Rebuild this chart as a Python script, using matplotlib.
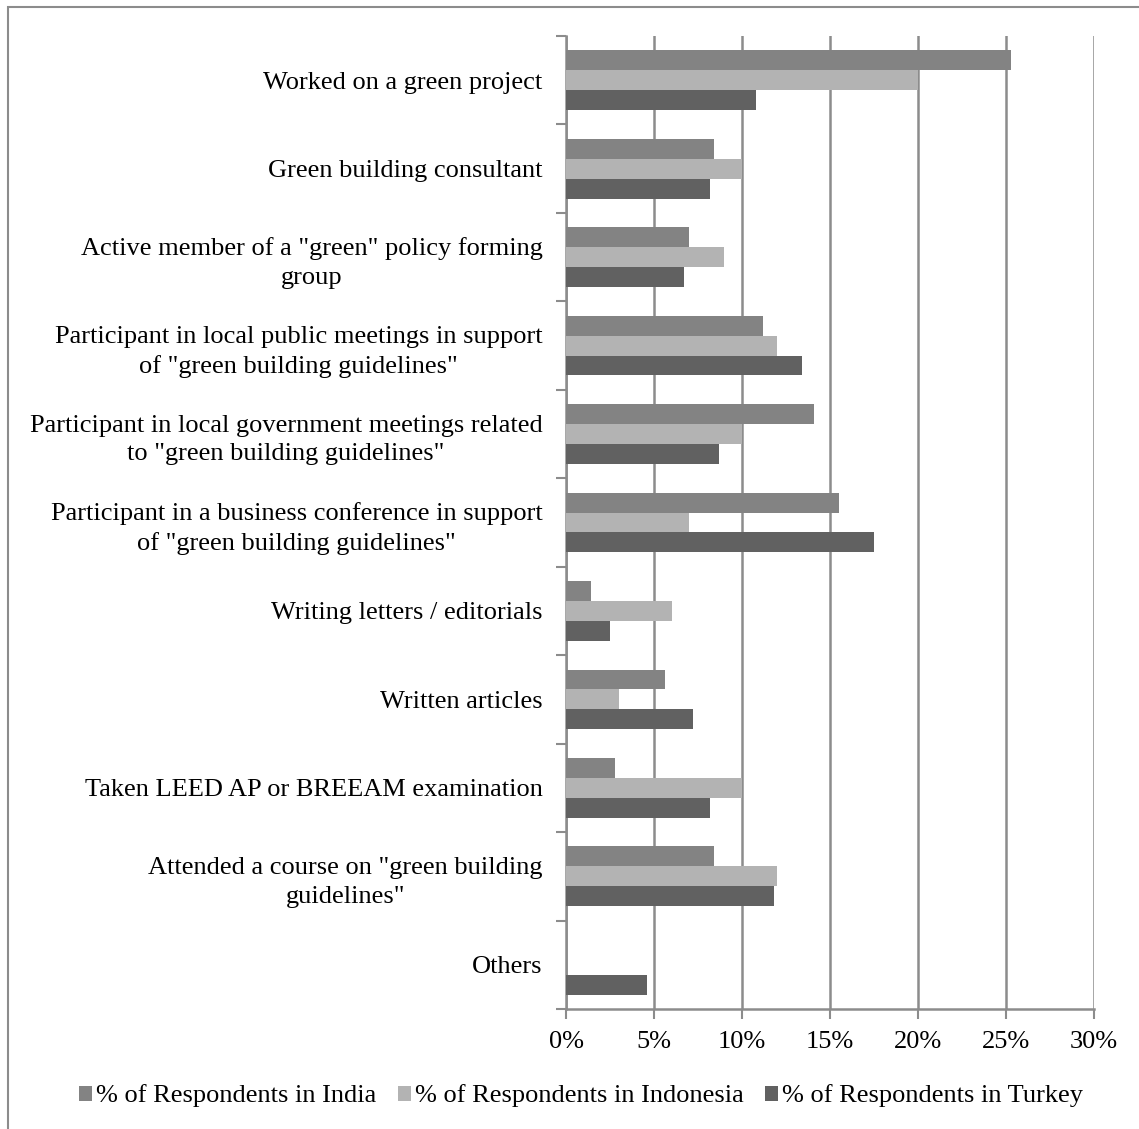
import matplotlib.pyplot as plt
import numpy as np
from matplotlib.patches import Rectangle
from matplotlib.ticker import FuncFormatter

plt.rcParams['font.family'] = ['Liberation Serif', 'DejaVu Serif']
plt.rcParams['font.size'] = 19

# Data
categories = [
    'Worked on a green project',
    'Green building consultant',
    'Active member of a "green" policy forming\ngroup',
    'Participant in local public meetings in support\nof "green building guidelines"',
    'Participant in local government meetings related\nto "green building guidelines"',
    'Participant in a business conference in support\nof "green building guidelines"',
    'Writing letters / editorials',
    'Written articles',
    'Taken LEED AP or BREEAM examination',
    'Attended a course on "green building\nguidelines"',
    'Others',
]
india = [25.3, 8.4, 7.0, 11.2, 14.1, 15.5, 1.4, 5.6, 2.8, 8.4, 0.0]
indonesia = [20.0, 10.0, 9.0, 12.0, 10.0, 7.0, 6.0, 3.0, 10.0, 12.0, 0.0]
turkey = [10.8, 8.2, 6.7, 13.4, 8.7, 17.5, 2.5, 7.2, 8.2, 11.8, 4.6]
series_names = ['% of Respondents in India', '% of Respondents in Indonesia',
                '% of Respondents in Turkey']
colors = ['#838383', '#b3b3b3', '#616161']
x_ticks = [0, 5, 10, 15, 20, 25, 30]

fig = plt.figure(figsize=(11.39, 11.29), dpi=100)
ax = fig.add_axes([566 / 1139, 1 - 1009 / 1129, (1094 - 566) / 1139, (1009 - 36) / 1129])

n = len(categories)
y = np.arange(n)[::-1].astype(float)
h = 0.225
for vals, off, c, name in zip([india, indonesia, turkey], [h, 0, -h], colors, series_names):
    ax.barh(y + off, vals, height=h, color=c, edgecolor='none', label=name, zorder=3)

ax.set_xlim(0, 30)
ax.set_ylim(-0.5, n - 0.5)

grid_c = '#8c8c8c'
ax.set_xticks(x_ticks)
ax.xaxis.set_major_formatter(FuncFormatter(lambda v, p: f'{int(v)}%'))
ax.grid(axis='x', color=grid_c, linewidth=1.8, zorder=0)

# y ticks: labels at centres, tick marks at boundaries
ax.set_yticks(y)
ax.set_yticklabels(categories)
ax.set_yticks(np.arange(-0.5, n, 1.0), minor=True)
ax.tick_params(axis='y', which='major', length=0, pad=17)
ax.tick_params(axis='y', which='minor', length=7, width=1.5, color=grid_c)
ax.tick_params(axis='x', length=7, width=1.5, color=grid_c, pad=9)
for lab in ax.get_yticklabels():
    lab.set_multialignment('center')
    lab.set_linespacing(1.4)

for s in ['top', 'right']:
    ax.spines[s].set_visible(False)
for s in ['left', 'bottom']:
    ax.spines[s].set_color(grid_c)
    ax.spines[s].set_linewidth(1.8)

ax.legend(loc='center', bbox_to_anchor=(0.51, 1 - 1096 / 1129), bbox_transform=fig.transFigure,
          ncol=3, frameon=False, handlelength=0.5, handleheight=0.5, handletextpad=0.15,
          columnspacing=0.8, fontsize=19)

# Outer chart border
fig.patches.append(Rectangle((8 / 1139, -0.1), 1.2, 1 - 7 / 1129 + 0.1, transform=fig.transFigure,
                             fill=False, edgecolor=grid_c, linewidth=1.5))

fig.savefig('out.png', dpi=100)
